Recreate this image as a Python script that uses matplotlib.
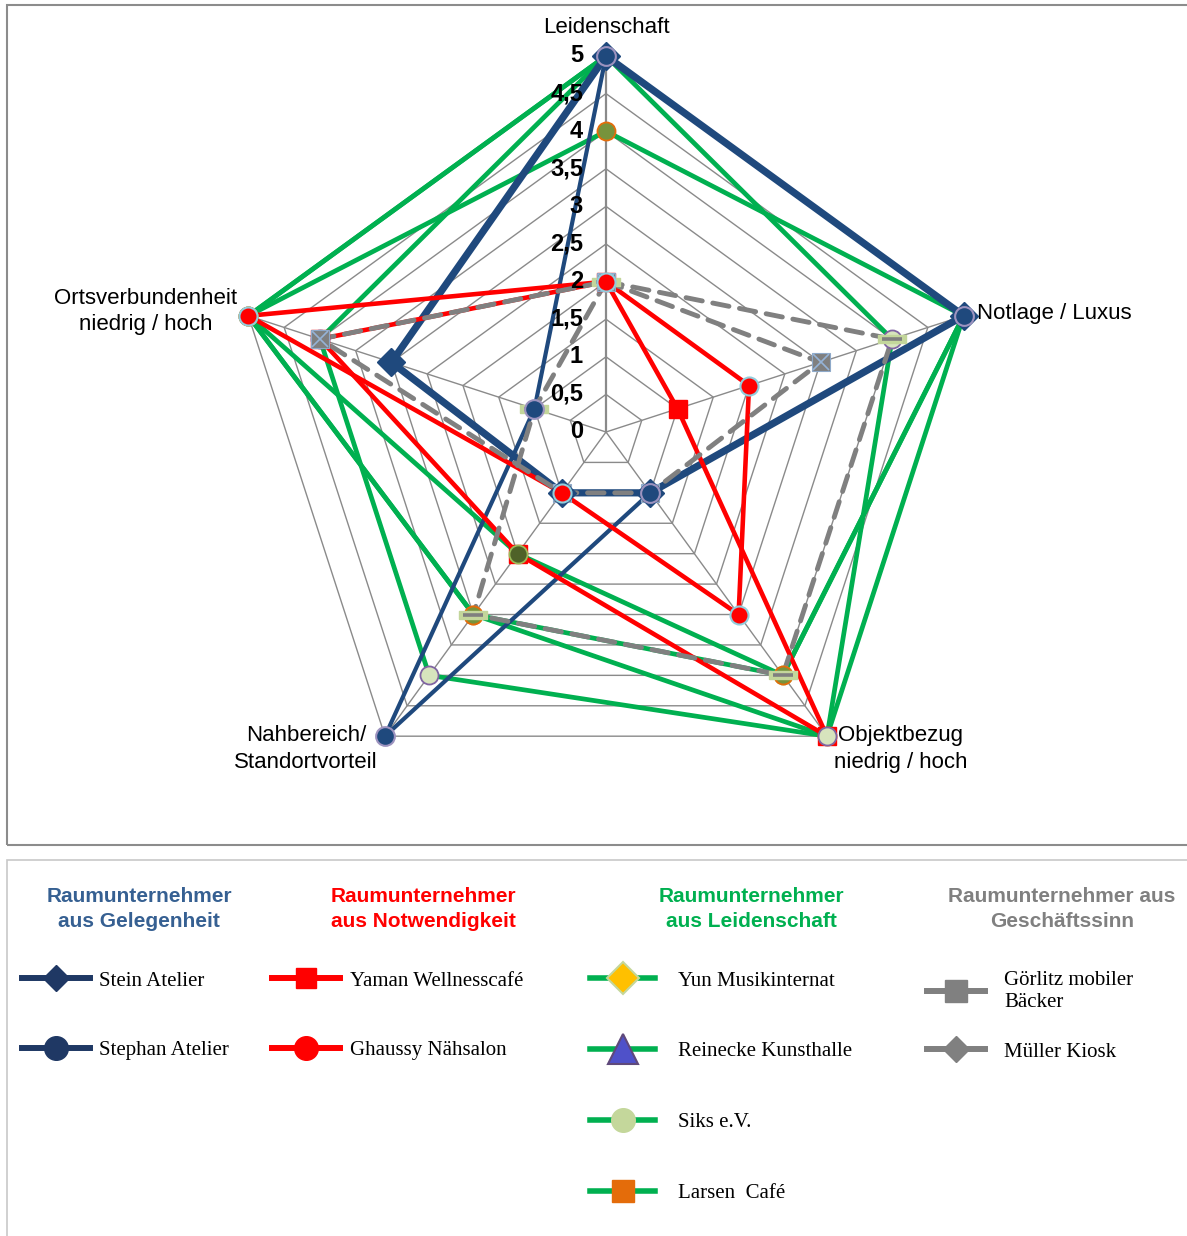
import numpy as np
import matplotlib
matplotlib.use("Agg")
import matplotlib.pyplot as plt
from matplotlib.lines import Line2D
from matplotlib.patches import Rectangle
from matplotlib import font_manager
from matplotlib.font_manager import FontProperties

# ---------------- data ----------------
categories = ["Leidenschaft", "Notlage / Luxus", "Objektbezug\nniedrig / hoch",
              "Nahbereich/\nStandortvorteil", "Ortsverbundenheit\nniedrig / hoch"]
tick_values = [0, 0.5, 1, 1.5, 2, 2.5, 3, 3.5, 4, 4.5, 5]
tick_labels = ["0", "0,5", "1", "1,5", "2", "2,5", "3", "3,5", "4", "4,5", "5"]

stein = [5, 5, 1, 1, 3]
stephan = [5, 5, 1, 5, 1]
yaman = [2, 1, 5, 2, 4]
ghaussy = [2, 2, 3, 1, 5]
yun = [5, 5, 4, 2, 5]
reinecke = [5, 5, 5, 3, 5]
siks = [5, 4, 5, 4, 4]
larsen = [4, 5, 4, 3, 5]
goerlitz = [2, 3, 1, 1, 4]
mueller = [2, 4, 4, 3, 1]

group_titles = ["Raumunternehmer\naus Gelegenheit", "Raumunternehmer\naus Notwendigkeit",
                "Raumunternehmer\naus Leidenschaft", "Raumunternehmer aus\nGeschäftssinn"]
legend_labels = [["Stein Atelier", "Stephan Atelier"],
                 ["Yaman Wellnesscafé", "Ghaussy Nähsalon"],
                 ["Yun Musikinternat", "Reinecke Kunsthalle", "Siks e.V.", "Larsen  Café"],
                 ["Görlitz mobiler\nBäcker", "Müller Kiosk"]]

# ---------------- fonts ----------------
names = {f.name for f in font_manager.fontManager.ttflist}
NARROW = "Liberation Sans Narrow" if "Liberation Sans Narrow" in names else "Liberation Sans"
SERIF = "Liberation Serif" if "Liberation Serif" in names else "DejaVu Serif"

W, H = 1187, 1236
fig = plt.figure(figsize=(W / 100, H / 100), dpi=100)

# frames
fig.patches.append(Rectangle((7 / W, 1 - 845 / H), (W - 5) / W, (845 - 5) / H,
                             transform=fig.transFigure, fill=False, ec="#8c8c8c", lw=1.5))
fig.patches.append(Rectangle((7 / W, -0.01), (W - 5) / W, (1236 - 860) / H + 0.01,
                             transform=fig.transFigure, fill=False, ec="#c8c8c8", lw=1.2))

# ---------------- radar ----------------
cx, cy, R = 606, 432, 376
ax = fig.add_axes([(cx - R) / W, 1 - (cy + R) / H, 2 * R / W, 2 * R / H], projection="polar")
ax.set_theta_offset(np.pi / 2)
ax.set_theta_direction(-1)
ax.set_ylim(0, 5)
ax.set_axis_off()

n = len(categories)
angles = np.linspace(0, 2 * np.pi, n, endpoint=False)
ang_c = np.append(angles, angles[0])

def closed(v):
    return np.append(v, v[0])

# web grid
for lv in tick_values[1:]:
    ax.plot(ang_c, [lv] * (n + 1), color="#8a8a8a", lw=1.0, zorder=1, clip_on=False)
for i, a in enumerate(angles):
    ax.plot([a, a], [0, 5], color="#8a8a8a", lw=1.6 if i == 0 else 1.0, zorder=1, clip_on=False)

BLUE = "#1F497D"
RED = "#FF0000"
GREEN = "#00B050"
GRAY = "#808080"

# lines
line_specs = [
    (siks, GREEN, 3.4, 2.00, None),
    (larsen, GREEN, 3.4, 2.02, None),
    (yun, GREEN, 3.4, 2.04, None),
    (reinecke, GREEN, 3.4, 2.06, None),
    (stein, BLUE, 5.2, 2.10, None),
    (stephan, BLUE, 3.0, 2.12, None),
    (yaman, RED, 3.3, 2.20, None),
    (ghaussy, RED, 3.3, 2.22, None),
    (goerlitz, GRAY, 3.5, 2.30, (3.4, 2.2)),
    (mueller, GRAY, 3.5, 2.32, (3.4, 2.2)),
]
for vals, col, lw, z, dash in line_specs:
    ln, = ax.plot(ang_c, closed(vals), color=col, lw=lw, zorder=z, solid_capstyle="round",
                  solid_joinstyle="miter", clip_on=False)
    if dash is not None:
        ln.set_dashes(dash)
        ln.set_dash_capstyle("round")

# markers
bar = [(-1.5, -0.45), (1.5, -0.45), (1.5, 0.45), (-1.5, 0.45), (-1.5, -0.45)]
mk = dict(ls="none", clip_on=False)
ax.plot(angles, yaman, marker="s", ms=13, mfc=RED, mec=RED, zorder=3.00, **mk)
ax.plot(angles, reinecke, marker="o", ms=13, mfc="#77933C", mec="#E46C0A", mew=1.2, zorder=3.05, **mk)
ax.plot(angles, siks, marker="o", ms=13, mfc="#D7E4BD", mec="#8064A2", mew=1.3, zorder=3.10, **mk)
ax.plot(angles, yun, marker="o", ms=13, mfc="#4F6228", mec="#9BBB59", mew=1.3, zorder=3.20, **mk)
ax.plot(angles, larsen, marker="o", ms=13, mfc="#77933C", mec="#E46C0A", mew=1.3, zorder=3.30, **mk)
ax.plot(angles, mueller, marker=bar, ms=20, mfc="#C3D69B", mec="#C3D69B", zorder=3.40, **mk)
ax.plot(angles, mueller, marker="_", ms=14, mec="#7F7F7F", mew=2.6, zorder=3.41, **mk)
ax.plot(angles, goerlitz, marker="s", ms=13.5, mfc="#7F7F7F", mec="#8EA9C9", mew=0.8, zorder=3.50, **mk)
ax.plot(angles, goerlitz, marker="x", ms=12, mec="#95B3D7", mew=1.2, zorder=3.51, **mk)
ax.plot(angles, stein, marker="D", ms=14, mfc=BLUE, mec=BLUE, zorder=3.60, **mk)
ax.plot(angles, stephan, marker="o", ms=13.5, mfc=BLUE, mec="#9D93BF", mew=1.5, zorder=3.70, **mk)
ax.plot(angles, ghaussy, marker="o", ms=13, mfc=RED, mec="#92CDDC", mew=1.5, zorder=3.80, **mk)

# value tick labels along the first axis
for v, t in zip(tick_values, tick_labels):
    ax.annotate(t, xy=(0, v), xytext=(-16.5, 0), textcoords="offset points",
                ha="right", va="center", fontsize=17, fontweight="bold",
                family=NARROW, zorder=5, annotation_clip=False)

# category labels
lab_off = [((0, 20.5), "center"), ((10, 2), "left"), ((53, -9.4), "center"),
           ((-57, -9.4), "center"), ((-74, 3), "center")]
for a, c, (off, ha) in zip(angles, categories, lab_off):
    ax.annotate(c, xy=(a, 5), xytext=off, textcoords="offset points", ha=ha, va="center",
                fontsize=16, family=NARROW, linespacing=1.35, multialignment="center",
                annotation_clip=False)

# ---------------- legend area ----------------
title_cols = ["#366092", RED, GREEN, GRAY]
title_x = [139, 423, 751, 1062]
for t, c, x in zip(group_titles, title_cols, title_x):
    fig.text(x / W, 1 - 909 / H, t, ha="center", va="center", color=c, fontsize=15,
             fontweight="bold", family=NARROW, linespacing=1.45)

LNAVY = "#1F3864"
LGREEN = "#00B050"
handles = [
    [Line2D([], [], color=LNAVY, lw=4.3, marker="D", ms=13, mfc=LNAVY, mec=LNAVY),
     Line2D([], [], color=LNAVY, lw=4.3, marker="o", ms=17, mfc=LNAVY, mec=LNAVY)],
    [Line2D([], [], color=RED, lw=4.3, marker="s", ms=15, mfc=RED, mec=RED),
     Line2D([], [], color=RED, lw=4.3, marker="o", ms=17, mfc=RED, mec=RED)],
    [Line2D([], [], color=LGREEN, lw=4.0, marker="D", ms=16, mfc="#FFC000", mec="#C4D79B", mew=1.5),
     Line2D([], [], color=LGREEN, lw=4.0, marker="^", ms=21, mfc="#4F51C9", mec="#5F497A", mew=1.5),
     Line2D([], [], color=LGREEN, lw=4.0, marker="o", ms=17, mfc="#C4D79B", mec="#C4D79B"),
     Line2D([], [], color=LGREEN, lw=4.0, marker="s", ms=16, mfc="#E46C0A", mec="#E46C0A")],
    [Line2D([], [], color=GRAY, lw=4.3, marker="s", ms=16, mfc=GRAY, mec=GRAY),
     Line2D([], [], color=GRAY, lw=4.3, marker="D", ms=13, mfc=GRAY, mec=GRAY)],
]
fs = 15
fpx = fs * 100 / 72
leg_cfg = [
    # handle left x, handle length px, text x, top y, labelspacing
    (22, 68, 99, 971, 2.4),
    (272, 68, 350, 971, 2.4),
    (590, 65, 678, 971, 2.46),
    (927, 58, 1004, 971, 1.45),
]
for hs, labs, (hx, hl, tx, ty, ls) in zip(handles, legend_labels, leg_cfg):
    fig.legend(hs, labs, loc="upper left", bbox_to_anchor=(hx / W, 1 - ty / H),
               frameon=False, borderpad=0, borderaxespad=0,
               handlelength=hl / fpx, handletextpad=(tx - hx - hl) / fpx,
               labelspacing=ls, prop=FontProperties(family=SERIF, size=fs))

fig.savefig("out.png", dpi=100)
